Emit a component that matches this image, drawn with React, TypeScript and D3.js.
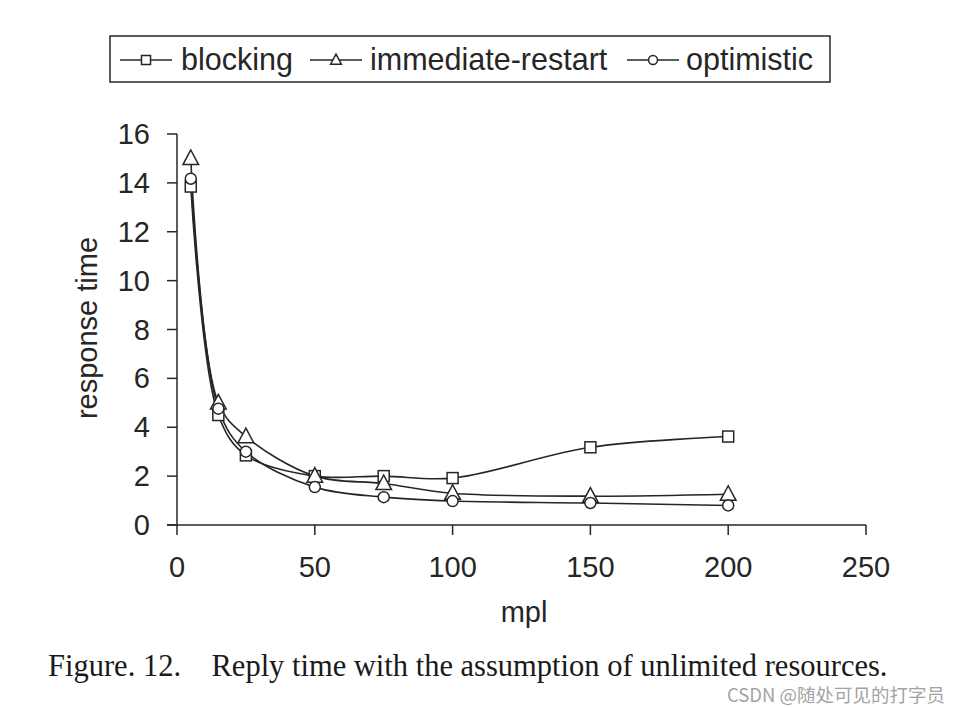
import React from "react";
import * as d3 from "d3";

const mpl = [5, 15, 25, 50, 75, 100, 150, 200];
const blocking = [13.85, 4.5, 2.85, 2.0, 2.0, 1.92, 3.18, 3.62];
const immediateRestart = [15.0, 5.0, 3.62, 2.0, 1.7, 1.3, 1.18, 1.26];
const optimistic = [14.17, 4.76, 3.0, 1.55, 1.14, 0.98, 0.9, 0.8];
const xTicks = [0, 50, 100, 150, 200, 250];
const yTicks = [0, 2, 4, 6, 8, 10, 12, 14, 16];
const seriesNames = ["blocking", "immediate-restart", "optimistic"];
const seriesMarkers = ["square", "triangle", "circle"];

const W = 973;
const H = 709;
const INK = "#262626";
const SANS = "Arial, 'Liberation Sans', sans-serif";
const SERIF = "'Times New Roman', 'Liberation Serif', serif";

function Marker({ kind, x, y, s }: { kind: string; x: number; y: number; s: number }) {
  if (kind === "square")
    return <rect x={x - s / 2} y={y - s / 2} width={s} height={s} fill="#fff" stroke={INK} strokeWidth={1.5} />;
  if (kind === "triangle") {
    const h = s * 1.05;
    const pts = `${x},${y - h * 0.62} ${x - s * 0.6},${y + h * 0.45} ${x + s * 0.6},${y + h * 0.45}`;
    return <polygon points={pts} fill="#fff" stroke={INK} strokeWidth={1.5} />;
  }
  return <circle cx={x} cy={y} r={s / 2} fill="#fff" stroke={INK} strokeWidth={1.5} />;
}

export default function App() {
  const x = d3.scaleLinear().domain([0, 250]).range([177, 866]);
  const y = d3.scaleLinear().domain([0, 16]).range([525, 134]);
  const data = [blocking, immediateRestart, optimistic];
  const line = d3
    .line<[number, number]>()
    .x((d) => x(d[0]))
    .y((d) => y(d[1]))
    .curve(d3.curveCatmullRom.alpha(0.5));

  const legendItems = [
    { lx: 120, tx: 181 },
    { lx: 310, tx: 370 },
    { lx: 627, tx: 686 },
  ];

  return (
    <svg width={W} height={H} style={{ position: "absolute", left: 0, top: 0, background: "#fff" }}>
      <rect x={0} y={0} width={W} height={H} fill="#fff" />
      {/* legend */}
      <rect x={110} y={36} width={720} height={46} fill="#fff" stroke={INK} strokeWidth={1.5} />
      {legendItems.map((it, i) => (
        <g key={i}>
          <line x1={it.lx} x2={it.lx + 52} y1={60} y2={60} stroke={INK} strokeWidth={1.5} />
          <Marker kind={seriesMarkers[i]} x={it.lx + 26} y={60} s={9} />
          <text x={it.tx} y={70} fontFamily={SANS} fontSize={30.5} fill={INK}>
            {seriesNames[i]}
          </text>
        </g>
      ))}
      {/* axes */}
      <line x1={177} x2={177} y1={134} y2={525} stroke={INK} strokeWidth={1.5} />
      <line x1={167} x2={866} y1={525} y2={525} stroke={INK} strokeWidth={1.5} />
      {yTicks.map((t) => (
        <g key={"y" + t}>
          <line x1={167} x2={177} y1={y(t)} y2={y(t)} stroke={INK} strokeWidth={1.5} />
          <text x={150} y={y(t) + 10} textAnchor="end" fontFamily={SANS} fontSize={29} fill={INK}>
            {t}
          </text>
        </g>
      ))}
      {xTicks.map((t) => (
        <g key={"x" + t}>
          <line x1={x(t)} x2={x(t)} y1={525} y2={535} stroke={INK} strokeWidth={1.5} />
          <text x={x(t)} y={577} textAnchor="middle" fontFamily={SANS} fontSize={29} fill={INK}>
            {t}
          </text>
        </g>
      ))}
      <text x={524} y={622} textAnchor="middle" fontFamily={SANS} fontSize={29} fill={INK}>
        mpl
      </text>
      <text
        transform={`translate(97,328) rotate(-90)`}
        textAnchor="middle"
        fontFamily={SANS}
        fontSize={29}
        fill={INK}
      >
        response time
      </text>
      {/* series */}
      {data.map((vals, i) => (
        <path
          key={"l" + i}
          d={line(mpl.map((m, j) => [m, vals[j]] as [number, number])) || ""}
          fill="none"
          stroke={INK}
          strokeWidth={1.6}
        />
      ))}
      {data.map((vals, i) =>
        mpl.map((m, j) => (
          <Marker key={`m${i}-${j}`} kind={seriesMarkers[i]} x={x(m)} y={y(vals[j])} s={seriesMarkers[i] === "triangle" ? 13 : 11} />
        ))
      )}
      {/* caption */}
      <text x={48} y={676} fontFamily={SERIF} fontSize={30.5} fill="#1a1a1a" xmlSpace="preserve">
        Figure. 12.{"\u00a0\u00a0\u00a0\u00a0"}Reply time with the assumption of unlimited resources.
      </text>
      <text x={727} y={702} fontFamily={"'Noto Sans CJK SC', sans-serif"} fontSize={18.5} fill="#9a9a9a" opacity={0.9}>
        CSDN @随处可见的打字员
      </text>
    </svg>
  );
}
